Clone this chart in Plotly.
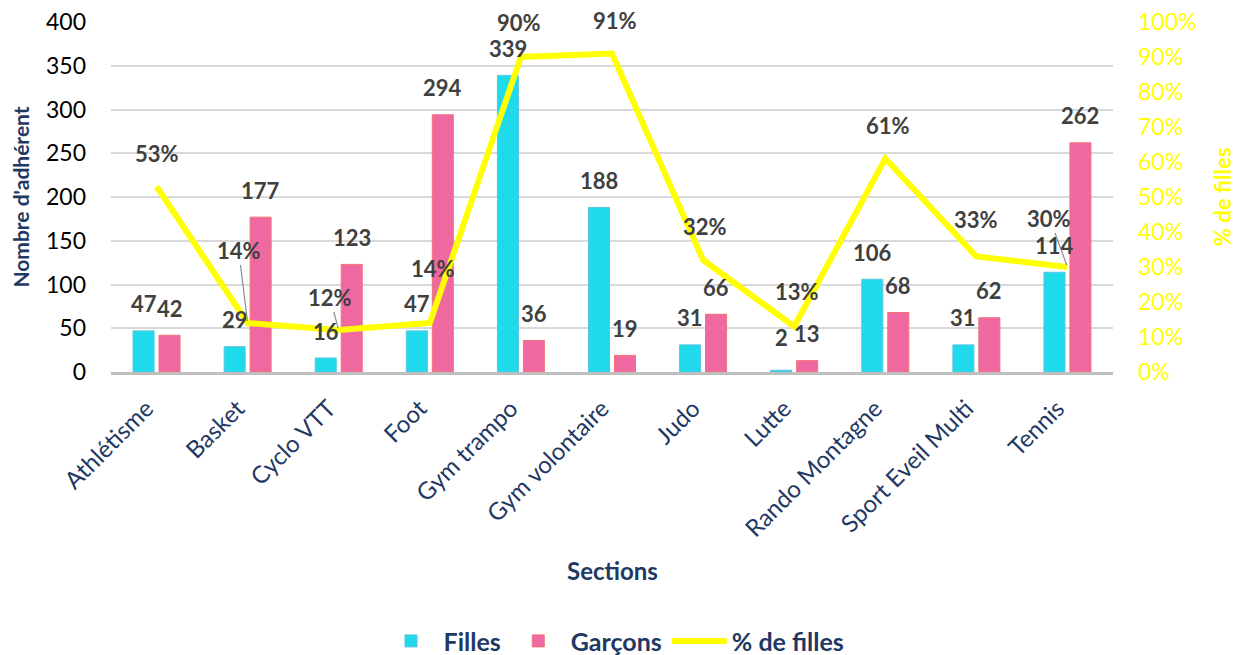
import plotly.graph_objects as go

sections = ["Athlétisme", "Basket", "Cyclo VTT", "Foot", "Gym trampo", "Gym volontaire",
            "Judo", "Lutte", "Rando Montagne", "Sport Eveil Multi", "Tennis"]
filles = [47, 29, 16, 47, 339, 188, 31, 2, 106, 31, 114]
garcons = [42, 177, 123, 294, 36, 19, 66, 13, 68, 62, 262]
pct_filles = [0.53, 0.14, 0.12, 0.14, 0.90, 0.91, 0.32, 0.13, 0.61, 0.33, 0.30]

FONT = "Lato"
NAVY = "#1F3864"
LABEL = "#404040"
YELLOW = "#FFFF00"

# label placement tweaks (pixel offsets, style only)
pct_offsets = {  # index: (ax, ay, leader line)
    0: (0, -33, False), 1: (-9, -73, True), 2: (-9, -33, True), 3: (3, -55, False),
    4: (-2, -35, False), 5: (3, -33, False), 6: (2, -34, False), 7: (3, -35, False),
    8: (3, -33, False), 9: (0, -37, False), 10: (-18, -49, True),
}
bar_yshift_f = {7: 33}
bar_yshift_g = {}

fig = go.Figure()
fig.add_trace(go.Bar(name="Filles", x=sections, y=filles,
                     marker=dict(color="#1FDAEB", line=dict(color="#5BC5E0", width=1))))
fig.add_trace(go.Bar(name="Garçons", x=sections, y=garcons,
                     marker=dict(color="#EF69A0", line=dict(color="#EF7474", width=1))))
fig.add_trace(go.Scatter(name="% de filles", x=sections, y=pct_filles, yaxis="y2",
                         mode="lines", line=dict(color=YELLOW, width=6)))

ann = []
for i, s in enumerate(sections):
    ann.append(dict(x=s, y=filles[i], xref="x", yref="y", text=f"<b>{filles[i]}</b>",
                    showarrow=False, xshift=-13, yshift=bar_yshift_f.get(i, 27),
                    font=dict(family=FONT, size=22, color=LABEL)))
    ann.append(dict(x=s, y=garcons[i], xref="x", yref="y", text=f"<b>{garcons[i]}</b>",
                    showarrow=False, xshift=13, yshift=bar_yshift_g.get(i, 27),
                    font=dict(family=FONT, size=22, color=LABEL)))
for i, s in enumerate(sections):
    ax_, ay_, leader = pct_offsets[i]
    ann.append(dict(x=s, y=pct_filles[i], xref="x", yref="y2",
                    text=f"<b>{pct_filles[i]:.0%}</b>", showarrow=True,
                    ax=ax_, ay=ay_, axref="pixel", ayref="pixel",
                    arrowhead=0, arrowwidth=1.2, standoff=2,
                    arrowcolor="#8C8C8C" if leader else "rgba(0,0,0,0)",
                    font=dict(family=FONT, size=22, color=LABEL)))
ann.append(dict(x=0.5, y=-0.566, xref="paper", yref="paper", text="<b>Sections</b>",
                showarrow=False, yanchor="middle",
                font=dict(family=FONT, size=24, color=NAVY)))
ann.append(dict(x=1.109, y=0.5, xref="paper", yref="paper", text="<b>% de filles</b>",
                showarrow=False, textangle=-90, xanchor="center", yanchor="middle",
                font=dict(family=FONT, size=22, color=YELLOW)))

# page body has an 8px margin, so the figure is 8px smaller than the window
fig.update_layout(
    width=1236, height=647,
    margin=dict(l=103, r=131, t=14, b=283, autoexpand=False),
    paper_bgcolor="white", plot_bgcolor="white",
    font=dict(family=FONT, size=22, color="black"),
    barmode="group", bargap=0.43, bargroupgap=0.19,
    annotations=ann,
    showlegend=True,
    legend=dict(orientation="h", x=0.502, xanchor="center", y=-0.769, yanchor="middle",
                font=dict(family=FONT, size=25, color=NAVY, weight="bold"),
                itemwidth=55, traceorder="normal"),
    xaxis=dict(tickangle=-45, showline=True, linecolor="#BFBFBF", linewidth=3,
               ticks="", tickfont=dict(family=FONT, size=24, color=NAVY),
               ticklabelshift=-10, ticklabelstandoff=10, automargin=False),
    yaxis=dict(range=[0, 400], dtick=50, showgrid=True, gridcolor="#D9D9D9", gridwidth=1.5,
               zeroline=False, tickfont=dict(family=FONT, size=23, color="black"),
               ticklabelstandoff=24, automargin=False, ticklabeloverflow="allow",
               title=dict(text="<b>Nombre d'adhérent</b>", font=dict(family=FONT, size=21, color=NAVY),
                          standoff=11)),
    yaxis2=dict(overlaying="y", side="right", range=[0, 1], dtick=0.1, tickformat=".0%",
                showgrid=False, zeroline=False, automargin=False, ticklabeloverflow="allow",
                tickfont=dict(family=FONT, size=23, color=YELLOW), ticklabelstandoff=24),
)

fig.write_html("out.html")
